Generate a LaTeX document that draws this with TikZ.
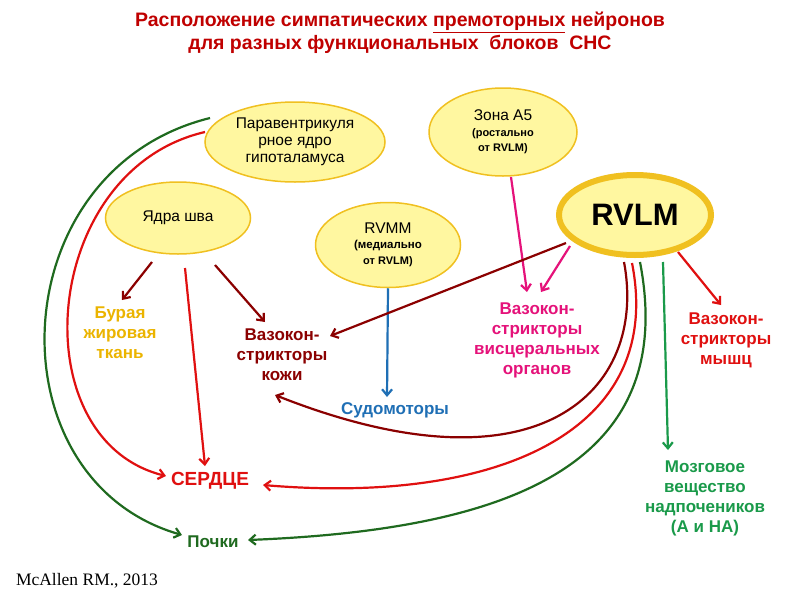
\documentclass[tikz,border=0pt]{standalone}
\usepackage{fontspec}
\setmainfont{Liberation Sans}
\newfontfamily\serifr{Liberation Serif}
\usetikzlibrary{arrows.meta,shapes.geometric}
\definecolor{dred}{HTML}{8B0000}
\definecolor{tred}{HTML}{C00000}
\definecolor{rred}{HTML}{E01010}
\definecolor{mag}{HTML}{E5127A}
\definecolor{blu}{HTML}{1F6FB5}
\definecolor{grn}{HTML}{1A9A4A}
\definecolor{dgrn}{HTML}{1F6A1F}
\definecolor{orng}{HTML}{EBB400}
\definecolor{efill}{HTML}{FFF7A0}
\definecolor{ebord}{HTML}{F0C020}
\begin{document}
\begin{tikzpicture}[x=1pt,y=-1pt,
 ell/.style={ellipse,draw=ebord,fill=efill,line width=1.5pt,inner sep=0pt,align=center,font=\fontsize{15.5}{17}\selectfont},
 lab/.style={align=center,font=\bfseries\fontsize{17}{20}\selectfont},
 ar/.style={line width=2.2pt,-{Straight Barb[length=6pt,width=10pt]}}]
\useasboundingbox (0,0) rectangle (800,600);
\fill[white] (0,0) rectangle (800,600);
\node[font=\bfseries\fontsize{19.5}{23}\selectfont,text=tred,align=center] (title) at (400,33) {Расположение симпатических \underline{премоторных} нейронов\\для разных функциональных \ блоков \ СНС};
\node[ell,minimum width=180pt,minimum height=80pt] (pvn) at (295,142) {Паравентрикуля\\рное ядро\\гипоталамуса};
\node[ell,minimum width=148pt,minimum height=88pt] (a5) at (503,132) {Зона А5\\[-1pt]{\bfseries\fontsize{11}{13}\selectfont(ростально}\\[-2pt]{\bfseries\fontsize{11}{13}\selectfont от RVLM)}};
\node[ell,minimum width=145pt,minimum height=72pt] (ys) at (178,218) {Ядра шва};
\node[ell,minimum width=145pt,minimum height=85pt] (rvmm) at (388,245) {RVMM\\[-2pt]{\bfseries\fontsize{11.5}{14}\selectfont (медиально}\\[-1pt]{\bfseries\fontsize{11}{14}\selectfont от RVLM)}};
\node[ell,line width=6pt,minimum width=152pt,minimum height=80pt,font=\bfseries\fontsize{31}{34}\selectfont] (rvlm) at (635,215) {RVLM};
\node[lab,text=orng] (bat) at (120,333) {Бурая\\жировая\\ткань};
\node[lab,text=dred] (skin) at (282,355) {Вазокон-\\стрикторы\\кожи};
\node[lab,text=blu] (sud) at (395,410) {Судомоторы};
\node[lab,text=mag] (visc) at (537,340) {Вазокон-\\стрикторы\\висцеральных\\органов};
\node[lab,text=rred] (musc) at (726,340) {Вазокон-\\стрикторы\\мышц};
\node[lab,text=rred,font=\bfseries\fontsize{19}{22}\selectfont] (heart) at (210,481) {СЕРДЦЕ};
\node[lab,text=grn] (adr) at (705,498) {Мозговое\\вещество\\надпочеников\\(А и НА)};
\node[lab,text=dgrn] (kid) at (213,542) {Почки};
\node[font=\serifr\fontsize{17.5}{20}\selectfont] (ref) at (87,581) {McAllen RM., 2013};
\coordinate (ys1) at (152,262); \coordinate (ys2) at (185,268); \coordinate (ys3) at (215,265);
\coordinate (sudt) at (387,397);
\draw[ar,dred] (ys1) -- (122,300);
\draw[ar,rred] (ys2) -- (205,466);
\draw[ar,dred] (ys3) -- (265,322);
\draw[ar,blu] (rvmm.south) -- (sudt);
\draw[ar,mag] (511,177) -- (527,292);
\draw[ar,mag] (570,246) -- (541,292);
\draw[ar,dred] (566,243) -- (330,336);
\draw[ar,rred] (678,252) -- (721,305);
\draw[ar,grn] (663,262) -- (668,450);
\draw[ar,dred] (624,262) .. controls (648,390) and (540,500) .. (275,395);
\draw[ar,rred] (632,263) .. controls (665,430) and (500,505) .. (263,485);
\draw[ar,dgrn] (640,262) .. controls (680,470) and (500,530) .. (248,540);
\draw[ar,rred] (205,132) .. controls (40,170) and (20,440) .. (166,476);
\draw[ar,dgrn] (210,118) .. controls (0,170) and (-10,480) .. (182,535);
\end{tikzpicture}
\end{document}
